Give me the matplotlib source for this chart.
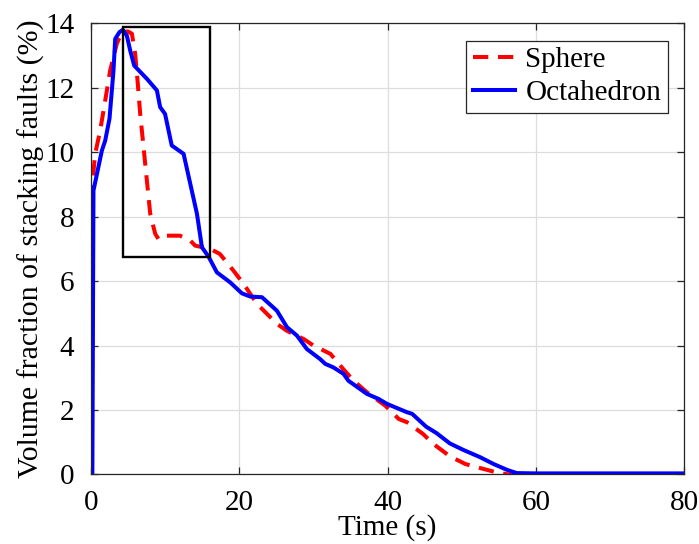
import matplotlib
matplotlib.use("Agg")
import matplotlib.pyplot as plt
from matplotlib.patches import Rectangle

plt.rcParams['font.family'] = ['Liberation Serif', 'DejaVu Serif']

# Sphere series (time in s, stacking-fault volume fraction in %)
sphere_t = [0.0, 0.1, 0.27, 0.58, 1.25, 1.93, 2.6, 3.5, 4.18, 5.0, 5.53, 5.97, 6.3, 6.65, 7.1,
            7.55, 8.0, 8.67, 9.1, 9.8, 12.0, 13.4, 14.06, 16.1, 17.4, 19.2, 20.6, 22.4,
            25.1, 26.4, 28.7, 30.0, 32.3, 33.6, 35.4, 37.2, 39.7, 41.5, 42.6, 44.8, 46.2,
            48.4, 50.5, 52.9, 54.7, 57.0, 60.6, 65.0, 70.0, 75.0, 80.0]
sphere_v = [0.0, 0.0, 9.2, 9.95, 10.67, 11.6, 12.54, 13.37, 13.73, 13.75, 13.68, 13.06, 12.2,
            11.19, 10.16, 9.12, 8.09, 7.47, 7.31, 7.41, 7.41, 7.26, 7.1, 7.0, 6.84, 6.33,
            5.91, 5.29, 4.67, 4.46, 4.2, 4.0, 3.74, 3.38, 2.91, 2.55, 2.13, 1.72, 1.62,
            1.25, 0.94, 0.56, 0.32, 0.17, 0.06, -0.03, -0.03, 0.0, 0.0, 0.0, 0.0]

# Octahedron series
octa_t = [0.0, 0.2, 0.35, 1.48, 1.93, 2.51, 3.05, 3.28, 3.86, 4.31, 4.85, 5.3, 5.84, 7.55,
          8.9, 9.34, 10.0, 10.9, 12.5, 13.4, 14.3, 14.97, 15.86, 16.99, 18.78, 20.36,
          21.48, 23.06, 25.08, 26.43, 27.77, 29.12, 30.9, 31.6, 32.7, 34.06, 34.7, 37.2,
          38.8, 39.9, 42.6, 43.3, 45.2, 46.6, 48.4, 50.2, 52.5, 54.3, 56.1, 57.4, 60.0,
          65.0, 70.0, 75.0, 80.0]
octa_v = [0.0, 0.0, 8.81, 10.05, 10.36, 11.04, 12.54, 13.52, 13.73, 13.8, 13.62, 13.16,
          12.69, 12.28, 11.92, 11.4, 11.19, 10.21, 9.95, 9.02, 8.09, 7.05, 6.76, 6.27,
          5.96, 5.62, 5.52, 5.5, 5.08, 4.57, 4.31, 3.89, 3.58, 3.43, 3.32, 3.12, 2.91,
          2.5, 2.34, 2.19, 1.93, 1.88, 1.48, 1.28, 0.96, 0.76, 0.53, 0.32, 0.14, 0.04,
          0.03, 0.03, 0.03, 0.03, 0.03]

# Highlighted window around the peak: (t0, t1, v0, v1)
zoom_box = (4.3, 16.0, 6.75, 13.9)

fig = plt.figure(figsize=(6.99, 5.44), dpi=100)
ax = fig.add_axes([0.130, 0.128, 0.849, 0.829])

ax.plot(sphere_t, sphere_v, color='#ff0000', lw=2.9, ls=(0, (3.8, 2.4)), label='Sphere')
ax.plot(octa_t, octa_v, color='#0000ff', lw=2.9, label='Octahedron')

t0, t1, v0, v1 = zoom_box
ax.add_patch(Rectangle((t0, v0), t1 - t0, v1 - v0, fill=False, ec='black', lw=1.7, zorder=5))

ax.set_xlim(0, 80)
ax.set_ylim(0, 14)
ax.set_xticks([0, 20, 40, 60, 80])
ax.set_yticks([0, 2, 4, 6, 8, 10, 12, 14])
ax.grid(True, color='#dddddd', lw=0.9)
ax.set_axisbelow(True)
ax.tick_params(direction='in', top=True, right=True, length=5, width=0.9,
               color='#262626', labelsize=21)
ax.tick_params(axis='x', pad=11)
ax.tick_params(axis='y', pad=12)
for s in ax.spines.values():
    s.set_color('#262626')
    s.set_linewidth(0.9)

ax.set_xlabel('Time (s)', fontsize=21)
ax.xaxis.set_label_coords(0.5, -0.088)
ax.set_ylabel('Volume fraction of stacking faults (%)', fontsize=21.5, labelpad=0)

leg = ax.legend(loc='upper right', bbox_to_anchor=(0.972, 0.962), fontsize=21,
                fancybox=False, edgecolor='#262626', framealpha=1, handlelength=1.45,
                borderpad=0.22, labelspacing=0.22, handletextpad=0.35, borderaxespad=0)
leg.get_frame().set_linewidth(0.9)

fig.savefig('out.png', dpi=100)
